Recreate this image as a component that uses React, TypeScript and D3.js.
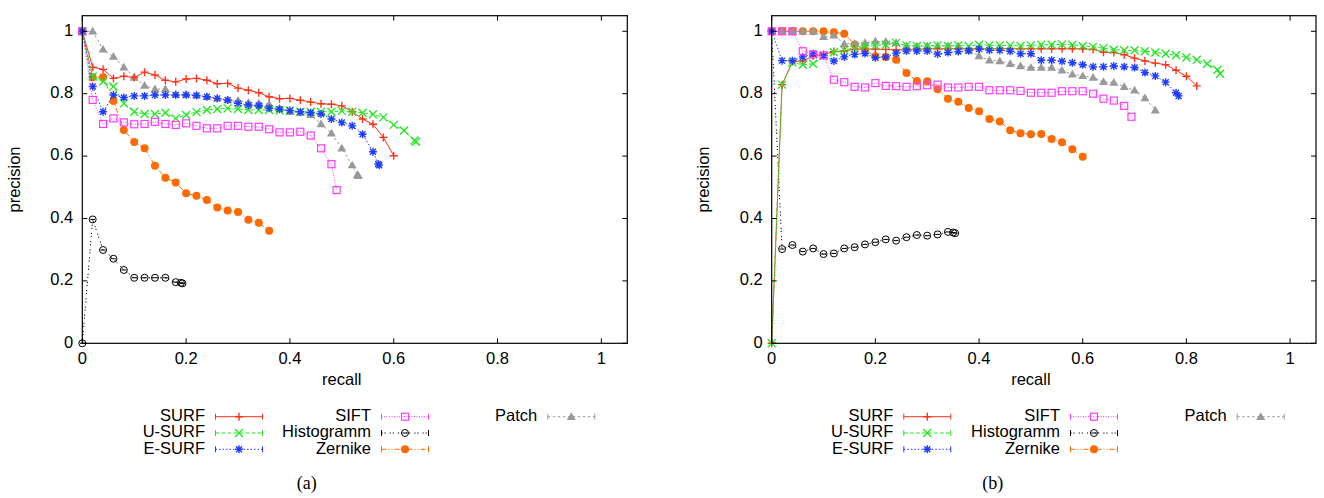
import React from "react";
import * as d3 from "d3";

type P = [number, number];

// ---------- panel (a) ----------
const SURF_A: P[] = [[0,1.0],[0.02,0.885],[0.04,0.878],[0.06,0.849],[0.08,0.856],[0.10,0.852],[0.12,0.869],[0.14,0.860],[0.16,0.843],[0.18,0.838],[0.20,0.847],[0.22,0.849],[0.24,0.843],[0.26,0.832],[0.28,0.833],[0.30,0.818],[0.32,0.811],[0.34,0.803],[0.36,0.790],[0.38,0.784],[0.40,0.785],[0.42,0.779],[0.44,0.773],[0.46,0.768],[0.48,0.766],[0.50,0.761],[0.52,0.742],[0.54,0.719],[0.56,0.702],[0.58,0.660],[0.60,0.601]];
const USURF_A: P[] = [[0,1.0],[0.02,0.855],[0.04,0.839],[0.06,0.823],[0.08,0.769],[0.10,0.742],[0.12,0.735],[0.14,0.735],[0.16,0.739],[0.18,0.721],[0.20,0.732],[0.22,0.741],[0.24,0.748],[0.26,0.751],[0.28,0.753],[0.30,0.751],[0.32,0.748],[0.34,0.748],[0.36,0.748],[0.38,0.746],[0.40,0.746],[0.42,0.742],[0.44,0.742],[0.46,0.742],[0.48,0.742],[0.50,0.745],[0.52,0.742],[0.54,0.739],[0.56,0.734],[0.58,0.724],[0.60,0.700],[0.62,0.682],[0.64,0.650],[0.643,0.646]];
const ESURF_A: P[] = [[0,1.0],[0.02,0.823],[0.04,0.742],[0.06,0.796],[0.08,0.788],[0.10,0.793],[0.12,0.793],[0.14,0.796],[0.16,0.796],[0.18,0.796],[0.20,0.796],[0.22,0.794],[0.24,0.790],[0.26,0.785],[0.28,0.780],[0.30,0.769],[0.32,0.764],[0.34,0.762],[0.36,0.753],[0.38,0.750],[0.40,0.746],[0.42,0.742],[0.44,0.739],[0.46,0.735],[0.48,0.719],[0.50,0.708],[0.52,0.697],[0.54,0.670],[0.56,0.614],[0.570,0.575],[0.572,0.571]];
const SIFT_A: P[] = [[0,1.0],[0.02,0.780],[0.04,0.703],[0.06,0.721],[0.08,0.708],[0.10,0.702],[0.12,0.703],[0.14,0.710],[0.16,0.703],[0.18,0.700],[0.20,0.705],[0.22,0.697],[0.24,0.689],[0.26,0.689],[0.28,0.697],[0.30,0.697],[0.32,0.694],[0.34,0.694],[0.36,0.686],[0.38,0.676],[0.40,0.676],[0.42,0.678],[0.44,0.666],[0.46,0.625],[0.48,0.574],[0.49,0.491]];
const HIST_A: P[] = [[0,0],[0.02,0.397],[0.04,0.299],[0.06,0.271],[0.08,0.235],[0.10,0.210],[0.12,0.210],[0.14,0.210],[0.16,0.210],[0.18,0.196],[0.19,0.194],[0.193,0.192]];
const ZERNIKE_A: P[] = [[0,1.0],[0.02,0.853],[0.04,0.853],[0.06,0.777],[0.08,0.684],[0.10,0.645],[0.12,0.625],[0.14,0.569],[0.16,0.531],[0.18,0.515],[0.20,0.481],[0.22,0.473],[0.24,0.459],[0.26,0.435],[0.28,0.426],[0.30,0.421],[0.32,0.396],[0.34,0.386],[0.36,0.361]];
const PATCH_A: P[] = [[0,1.0],[0.02,1.0],[0.04,0.942],[0.06,0.919],[0.08,0.885],[0.10,0.852],[0.12,0.826],[0.14,0.815],[0.16,0.815],[0.18,0.798],[0.20,0.798],[0.22,0.796],[0.24,0.790],[0.26,0.785],[0.28,0.780],[0.30,0.778],[0.32,0.772],[0.34,0.769],[0.36,0.766],[0.38,0.753],[0.40,0.742],[0.42,0.739],[0.44,0.732],[0.46,0.703],[0.48,0.673],[0.50,0.625],[0.52,0.571],[0.530,0.540],[0.532,0.537]];

// ---------- panel (b) ----------
const SURF_B: P[] = [[0,0],[0.02,0.829],[0.04,0.903],[0.06,0.905],[0.08,0.921],[0.10,0.926],[0.12,0.935],[0.14,0.937],[0.16,0.943],[0.18,0.943],[0.20,0.943],[0.22,0.942],[0.24,0.940],[0.26,0.942],[0.28,0.942],[0.30,0.944],[0.32,0.944],[0.34,0.944],[0.36,0.944],[0.38,0.944],[0.40,0.944],[0.42,0.944],[0.44,0.944],[0.46,0.944],[0.48,0.944],[0.50,0.944],[0.52,0.944],[0.54,0.944],[0.56,0.944],[0.58,0.944],[0.60,0.944],[0.62,0.942],[0.64,0.933],[0.66,0.932],[0.68,0.925],[0.70,0.914],[0.72,0.905],[0.74,0.898],[0.76,0.893],[0.78,0.875],[0.80,0.856],[0.82,0.825]];
const USURF_B: P[] = [[0,0],[0.02,0.829],[0.04,0.900],[0.06,0.893],[0.08,0.896],[0.10,0.920],[0.12,0.933],[0.14,0.940],[0.16,0.946],[0.18,0.952],[0.20,0.955],[0.22,0.957],[0.24,0.963],[0.26,0.955],[0.28,0.953],[0.30,0.953],[0.32,0.955],[0.34,0.953],[0.36,0.955],[0.38,0.953],[0.40,0.957],[0.42,0.955],[0.44,0.955],[0.46,0.955],[0.48,0.953],[0.50,0.955],[0.52,0.957],[0.54,0.957],[0.56,0.958],[0.58,0.957],[0.60,0.953],[0.62,0.950],[0.64,0.946],[0.66,0.941],[0.68,0.939],[0.70,0.939],[0.72,0.936],[0.74,0.932],[0.76,0.928],[0.78,0.923],[0.80,0.916],[0.82,0.909],[0.84,0.896],[0.86,0.877],[0.865,0.864]];
const ESURF_B: P[] = [[0,1.0],[0.02,0.906],[0.04,0.906],[0.06,0.918],[0.08,0.928],[0.10,0.922],[0.12,0.905],[0.14,0.918],[0.16,0.926],[0.18,0.929],[0.20,0.915],[0.22,0.918],[0.24,0.930],[0.26,0.937],[0.28,0.937],[0.30,0.937],[0.32,0.927],[0.34,0.932],[0.36,0.935],[0.38,0.938],[0.40,0.943],[0.42,0.939],[0.44,0.939],[0.46,0.936],[0.48,0.928],[0.50,0.928],[0.52,0.907],[0.54,0.907],[0.56,0.904],[0.58,0.899],[0.60,0.893],[0.62,0.886],[0.64,0.886],[0.66,0.889],[0.68,0.886],[0.70,0.884],[0.72,0.868],[0.74,0.857],[0.76,0.837],[0.78,0.803],[0.785,0.793]];
const SIFT_B: P[] = [[0,1.0],[0.02,1.0],[0.04,1.0],[0.06,0.936],[0.08,0.926],[0.10,0.923],[0.12,0.845],[0.14,0.837],[0.16,0.822],[0.18,0.820],[0.20,0.834],[0.22,0.825],[0.24,0.824],[0.26,0.822],[0.28,0.824],[0.30,0.827],[0.32,0.829],[0.34,0.820],[0.36,0.820],[0.38,0.822],[0.40,0.822],[0.42,0.811],[0.44,0.811],[0.46,0.811],[0.48,0.809],[0.50,0.803],[0.52,0.803],[0.54,0.803],[0.56,0.808],[0.58,0.808],[0.60,0.808],[0.62,0.800],[0.64,0.784],[0.66,0.778],[0.68,0.761],[0.694,0.726]];
const HIST_B: P[] = [[0,1.0],[0.02,0.302],[0.04,0.315],[0.06,0.294],[0.08,0.304],[0.10,0.286],[0.12,0.288],[0.14,0.304],[0.16,0.308],[0.18,0.317],[0.20,0.324],[0.22,0.333],[0.24,0.329],[0.26,0.340],[0.28,0.347],[0.30,0.345],[0.32,0.349],[0.34,0.357],[0.35,0.355],[0.354,0.353]];
const ZERNIKE_B: P[] = [[0,1.0],[0.02,1.0],[0.04,1.0],[0.06,1.0],[0.08,1.0],[0.10,1.0],[0.12,0.997],[0.14,0.992],[0.16,0.958],[0.18,0.940],[0.20,0.920],[0.22,0.918],[0.24,0.909],[0.26,0.866],[0.28,0.841],[0.30,0.840],[0.32,0.814],[0.34,0.784],[0.36,0.774],[0.38,0.754],[0.40,0.744],[0.42,0.719],[0.44,0.711],[0.46,0.683],[0.48,0.673],[0.50,0.670],[0.52,0.671],[0.54,0.655],[0.56,0.644],[0.58,0.622],[0.60,0.598]];
const PATCH_B: P[] = [[0,1.0],[0.02,1.0],[0.04,1.0],[0.06,1.0],[0.08,1.0],[0.10,0.982],[0.12,0.987],[0.14,0.960],[0.16,0.960],[0.18,0.963],[0.20,0.968],[0.22,0.967],[0.24,0.963],[0.26,0.953],[0.28,0.953],[0.30,0.953],[0.32,0.953],[0.34,0.953],[0.36,0.953],[0.38,0.939],[0.40,0.921],[0.42,0.907],[0.44,0.905],[0.46,0.896],[0.48,0.889],[0.50,0.884],[0.52,0.884],[0.54,0.884],[0.56,0.875],[0.58,0.862],[0.60,0.857],[0.62,0.852],[0.64,0.838],[0.66,0.836],[0.68,0.822],[0.70,0.811],[0.72,0.786],[0.74,0.747]];

const TICKS = [0, 0.2, 0.4, 0.6, 0.8, 1];
const TICK_LABELS = ["0", "0.2", "0.4", "0.6", "0.8", "1"];

type Mk = "plus" | "cross" | "star" | "square" | "circleBar" | "dot" | "tri";
interface Style { color: string; dash: string; marker: Mk; }
const STYLES: Record<string, Style> = {
  "SURF": { color: "#ff3319", dash: "none", marker: "plus" },
  "U-SURF": { color: "#22e622", dash: "4,2", marker: "cross" },
  "E-SURF": { color: "#1f3dff", dash: "1.5,2", marker: "star" },
  "SIFT": { color: "#ff3cff", dash: "1,1.5", marker: "square" },
  "Histogramm": { color: "#000000", dash: "1.2,1.8,1.2,4", marker: "circleBar" },
  "Zernike": { color: "#ff6a00", dash: "5,2,1,2,1,2", marker: "dot" },
  "Patch": { color: "#999999", dash: "2.5,2.5", marker: "tri" },
};

const DATA_A: Record<string, P[]> = { "SURF": SURF_A, "U-SURF": USURF_A, "E-SURF": ESURF_A, "SIFT": SIFT_A, "Histogramm": HIST_A, "Zernike": ZERNIKE_A, "Patch": PATCH_A };
const DATA_B: Record<string, P[]> = { "SURF": SURF_B, "U-SURF": USURF_B, "E-SURF": ESURF_B, "SIFT": SIFT_B, "Histogramm": HIST_B, "Zernike": ZERNIKE_B, "Patch": PATCH_B };

const DRAW_ORDER = ["Histogramm", "Zernike", "Patch", "SURF", "U-SURF", "E-SURF", "SIFT"];

const FONT = "'Liberation Sans', Arial, Helvetica, sans-serif";
const FS = 16.5;

function Marker({ x, y, m, color }: { x: number; y: number; m: Mk; color: string }) {
  const s = 4;
  switch (m) {
    case "plus":
      return <path d={`M${x - s},${y}H${x + s}M${x},${y - s}V${y + s}`} stroke={color} strokeWidth={1.4} fill="none" />;
    case "cross":
      return <path d={`M${x - s},${y - s}L${x + s},${y + s}M${x - s},${y + s}L${x + s},${y - s}`} stroke={color} strokeWidth={1.3} fill="none" />;
    case "star":
      return <path d={`M${x - s},${y}H${x + s}M${x},${y - s}V${y + s}M${x - 3},${y - 3}L${x + 3},${y + 3}M${x - 3},${y + 3}L${x + 3},${y - 3}`} stroke={color} strokeWidth={1.4} fill="none" />;
    case "square":
      return <rect x={x - 3.5} y={y - 3.5} width={7} height={7} stroke={color} strokeWidth={1.2} fill="none" />;
    case "circleBar":
      return (
        <g>
          <circle cx={x} cy={y} r={3.5} stroke={color} strokeWidth={1} fill="none" />
          <path d={`M${x - 2.5},${y}H${x + 2.5}`} stroke={color} strokeWidth={1} />
        </g>
      );
    case "dot":
      return <circle cx={x} cy={y} r={4} fill={color} />;
    case "tri":
      return <path d={`M${x},${y - 4.5}L${x + 4.5},${y + 3.2}L${x - 4.5},${y + 3.2}Z`} fill={color} />;
  }
  return null;
}

interface PanelCfg { x0: number; x1: number; legendX: number[]; caption: string; capX: number; data: Record<string, P[]>; }

const Y0 = 343.3, Y1 = 15.7;

function Panel({ cfg }: { cfg: PanelCfg }) {
  const x = d3.scaleLinear().domain([0, 1.05]).range([cfg.x0, cfg.x1]);
  const y = d3.scaleLinear().domain([0, 1.05]).range([Y0, Y1]);
  const line = d3.line<P>().x(d => x(d[0])).y(d => y(d[1]));
  const tl = 5;
  const legendRows = [416.7, 433, 449.3];
  const legendCols = [["SURF", "U-SURF", "E-SURF"], ["SIFT", "Histogramm", "Zernike"], ["Patch"]];
  return (
    <g>
      {DRAW_ORDER.map(name => {
        const st = STYLES[name];
        const pts = cfg.data[name];
        return (
          <g key={name}>
            <path d={line(pts) || ""} fill="none" stroke={st.color} strokeWidth={1} strokeDasharray={st.dash} />
            {pts.map((p, i) => <Marker key={i} x={x(p[0])} y={y(p[1])} m={st.marker} color={st.color} />)}
          </g>
        );
      })}
      <rect x={cfg.x0} y={Y1} width={cfg.x1 - cfg.x0} height={Y0 - Y1} fill="none" stroke="#000" strokeWidth={1.2} />
      {TICKS.map((t, i) => (
        <g key={"t" + i}>
          <path d={`M${x(t)},${Y0}V${Y0 - tl}M${x(t)},${Y1}V${Y1 + tl}`} stroke="#000" strokeWidth={1} />
          <path d={`M${cfg.x0},${y(t)}H${cfg.x0 + tl}M${cfg.x1},${y(t)}H${cfg.x1 - tl}`} stroke="#000" strokeWidth={1} />
          <text x={x(t)} y={360} textAnchor="middle" dominantBaseline="middle" fontSize={FS} fontFamily={FONT}>{TICK_LABELS[i]}</text>
          <text x={cfg.x0 - 9} y={y(t)} textAnchor="end" dominantBaseline="middle" fontSize={FS} fontFamily={FONT}>{TICK_LABELS[i]}</text>
        </g>
      ))}
      <text x={(cfg.x0 + x(1)) / 2} y={381} textAnchor="middle" dominantBaseline="middle" fontSize={FS} fontFamily={FONT}>recall</text>
      <text transform={`translate(${cfg.x0 - 67},${(Y0 + Y1) / 2}) rotate(-90)`} textAnchor="middle" dominantBaseline="middle" fontSize={FS} fontFamily={FONT}>precision</text>
      {legendCols.map((col, ci) => col.map((name, ri) => {
        const st = STYLES[name];
        const tx = cfg.legendX[ci];
        const ly = legendRows[ri];
        const sx = tx + 10.5, ex = sx + 47;
        return (
          <g key={name}>
            <text x={tx} y={ly} textAnchor="end" dominantBaseline="middle" fontSize={FS} fontFamily={FONT}>{name}</text>
            <path d={`M${sx},${ly}H${ex}`} stroke={st.color} strokeWidth={1} strokeDasharray={st.dash} />
            <path d={`M${sx},${ly - 3}V${ly + 3}M${ex},${ly - 3}V${ly + 3}`} stroke={st.color} strokeWidth={1} />
            <Marker x={(sx + ex) / 2} y={ly} m={st.marker} color={st.color} />
          </g>
        );
      }))}
      <text x={cfg.capX} y={485} textAnchor="middle" dominantBaseline="middle" fontSize={18} fontFamily="'Liberation Serif', 'Times New Roman', serif">{cfg.caption}</text>
    </g>
  );
}

const PANELS: PanelCfg[] = [
  { x0: 82.3, x1: 627.3, legendX: [205, 371, 537.3], caption: "(a)", capX: 306.7, data: DATA_A },
  { x0: 771.7, x1: 1316, legendX: [893.3, 1060, 1226.7], caption: "(b)", capX: 992.7, data: DATA_B },
];

export default function App() {
  return (
    <svg width={1324} height={498} style={{ position: "absolute", left: 0, top: 0, background: "#fff" }}>
      <rect x={0} y={0} width={1324} height={498} fill="#fff" />
      {PANELS.map(p => <Panel key={p.caption} cfg={p} />)}
    </svg>
  );
}
